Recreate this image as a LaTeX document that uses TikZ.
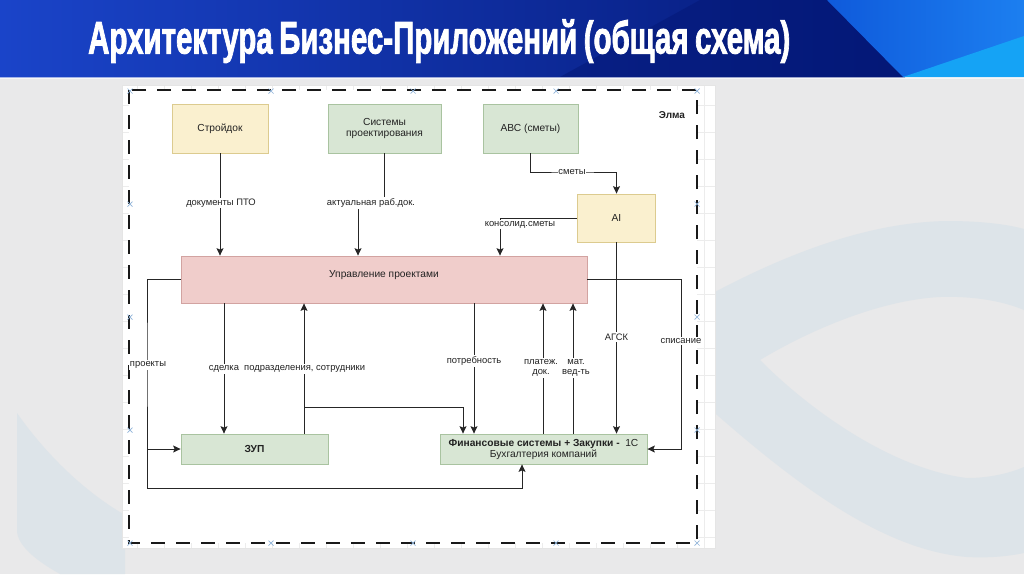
\documentclass[tikz,border=0pt]{standalone}
\usepackage{fontspec}
\usepackage{graphicx}
\setmainfont{Liberation Sans}
\newfontfamily\titlefont[FakeBold=2.2]{Liberation Sans}
\usetikzlibrary{arrows.meta,calc}
\definecolor{bgc}{HTML}{E9E9EA}
\definecolor{arcc}{HTML}{DDE4E9}
\definecolor{yelF}{HTML}{FAF0CF}
\definecolor{yelD}{HTML}{DCCB8F}
\definecolor{grnF}{HTML}{D8E6D4}
\definecolor{grnD}{HTML}{A9C3A0}
\definecolor{pnkF}{HTML}{F0CDCB}
\definecolor{pnkD}{HTML}{D2A3A1}
\definecolor{lnc}{HTML}{262626}
\definecolor{txt}{HTML}{222222}
\definecolor{xmark}{HTML}{8FB3D9}
\definecolor{gridc}{HTML}{ECECEC}
\definecolor{tbA}{HTML}{1A44C9}
\definecolor{tbB}{HTML}{0D2DA6}
\definecolor{tbC}{HTML}{041877}
\definecolor{tbD}{HTML}{0F5ADB}
\definecolor{tbE}{HTML}{1C7FF0}
\definecolor{tbF}{HTML}{15A3F5}
\tikzset{
  box/.style={draw, line width=0.8pt, inner sep=0pt, align=center, text=txt,
    font=\fontsize{10.2}{11}\selectfont},
  yel/.style={box, fill=yelF, draw=yelD},
  grn/.style={box, fill=grnF, draw=grnD},
  pnk/.style={box, fill=pnkF, draw=pnkD},
  conn/.style={draw=lnc, line width=0.9pt, -{Stealth[length=7.5pt,width=7pt,inset=1.5pt]}},
  lbl/.style={fill=white, inner sep=1.2pt, text=txt, align=center,
    font=\fontsize{9.4}{10}\selectfont},
  xm/.style={draw=xmark, line width=0.7pt},
}
\begin{document}
\begin{tikzpicture}[x=1pt,y=-1pt]
\useasboundingbox (0,0) rectangle (1024,574);
% background
\fill[bgc] (0,0) rectangle (1024,574);
\fill[arcc] (700,300) .. controls (800,245) and (880,222) .. (947,221)
  .. controls (985,221) and (1010,225) .. (1024,229) -- (1024,310)
  .. controls (1000,300) and (970,296) .. (940,297)
  .. controls (880,300) and (810,330) .. (760,360)
  .. controls (820,420) and (900,470) .. (967,478)
  .. controls (990,478) and (1010,473) .. (1024,467) -- (1024,553)
  .. controls (1005,557) and (985,558) .. (967,557)
  .. controls (880,550) and (790,480) .. (700,400) -- cycle;
\fill[arcc] (17,413) .. controls (50,460) and (90,495) .. (125,515) -- (125,574) -- (60,574)
  .. controls (35,560) and (17,545) .. (17,530) -- cycle;
% title band
\shade[left color=tbA, middle color=tbB, right color=tbC] (0,0) rectangle (905,77);
\fill[tbC, opacity=0.55] (560,77) -- (700,0) -- (827,0) -- (903,77) -- cycle;
\shade[left color=tbD, right color=tbE] (827,0) -- (1024,0) -- (1024,77) -- (903,77) -- cycle;
\fill[tbF] (903,77) -- (1024,36) -- (1024,77) -- cycle;
\fill[white, opacity=0.6] (0,77) rectangle (1024,79);
\node[anchor=base west, inner sep=0pt, text=white] (title) at (88,53.5)
  {\resizebox{702pt}{34pt}{\titlefont\bfseries Архитектура\hspace{0.22em}Бизнес-Приложений\hspace{0.22em}(общая\hspace{0.22em}схема)}};
% panel
\fill[white] (122,85) rectangle (715,548);
\foreach \yy in {105,132,...,546} \draw[gridc, line width=0.5pt] (122,\yy) -- (715,\yy);
\foreach \xx in {137,164,...,714} \draw[gridc, line width=0.5pt] (\xx,85) -- (\xx,548);
\draw[draw=gridc!80!black!40, line width=0.4pt] (122,85) rectangle (715,548);
\draw[fill=white, draw=black!90, line width=2.2pt, dash pattern=on 14pt off 11pt] (129,90) rectangle (697,543);
\foreach \xx in {130,271,413,556,697} {
  \draw[xm] (\xx-2.5,88.5) -- (\xx+2.5,93.5) (\xx-2.5,93.5) -- (\xx+2.5,88.5);
  \draw[xm] (\xx-2.5,540.5) -- (\xx+2.5,545.5) (\xx-2.5,545.5) -- (\xx+2.5,540.5);
}
\foreach \yy in {204,317,430} {
  \draw[xm] (127.5,\yy-2.5) -- (132.5,\yy+2.5) (127.5,\yy+2.5) -- (132.5,\yy-2.5);
  \draw[xm] (694.5,\yy-2.5) -- (699.5,\yy+2.5) (694.5,\yy+2.5) -- (699.5,\yy-2.5);
}
% nodes
\node[yel, minimum width=96pt, minimum height=49pt] (stroy) at (220,128.5) {Стройдок};
\node[grn, minimum width=113pt, minimum height=49pt] (sist) at (384.5,128.5) {Системы\\проектирования};
\node[grn, minimum width=95pt, minimum height=49pt] (abc) at (530.5,128.5) {АВС (сметы)};
\node[yel, minimum width=78pt, minimum height=48pt] (ai) at (616.5,218) {AI};
\node[pnk, minimum width=406pt, minimum height=47pt] (upr) at (384,279.5) {};
\node[inner sep=0pt, text=txt, font=\fontsize{10.2}{11}\selectfont] (uprtext) at (384,275) {Управление проектами};
\node[grn, minimum width=147pt, minimum height=30pt, font=\fontsize{10.2}{11}\selectfont\bfseries] (zup) at (254.5,449) {ЗУП};
\node[grn, minimum width=207pt, minimum height=30pt] (fin) at (543.5,449)
  {\textbf{Финансовые системы + Закупки -}\ \ 1С\\Бухгалтерия компаний};
\node[text=txt, font=\fontsize{10}{11}\selectfont\bfseries, inner sep=0pt] (elma) at (672,115) {Элма};
% connectors
\draw[conn] (stroy.south) -- (stroy.south |- upr.north);
\node[lbl] (l1) at (221,203) {документы ПТО};
\coordinate (k2) at (358,203);
\draw[conn] (sist.south) -- (sist.south |- k2) -- (k2) -- (k2 |- upr.north);
\node[lbl] (l2) at (371,203) {актуальная раб.док.};
\coordinate (k3) at (572,172);
\draw[conn] (abc.south) |- (k3) -| (ai.north);
\node[lbl, inner sep=0.8pt] (l3) at (k3) {сметы};
\coordinate (k4) at (500,218);
\draw[conn] (ai.west) -- (k4) -- (k4 |- upr.north);
\node[lbl] (l4) at (520,224.5) {консолид.сметы};
\draw[conn] (ai.south) -- (ai.south |- fin.north);
\node[lbl] (l5) at (616.5,337) {АГСК};
\coordinate (k6) at (681,341);
\draw[conn] (upr.east) -| (k6) |- (fin.east);
\node[lbl] (l6) at (k6) {списание};
\coordinate (k7) at (147,365);
\draw[conn] (upr.west) -| (k7) |- (zup.west);
\coordinate (k7b) at (147,488);
\draw[conn] (k7 |- zup.west) -- (k7b) -| ([xshift=-21.5pt]fin.south);
\node[lbl] (l7) at (148,365) {проекты};
\coordinate (c224) at (224,369);
\draw[conn] (c224 |- upr.south) -- (c224 |- zup.north);
\coordinate (c304) at (304,407);
\draw[conn] (c304 |- zup.north) -- (c304 |- upr.south);
\coordinate (c463) at (463,407);
\draw[conn] (c304) -- (c463) -- (c463 |- fin.north);
\node[lbl] (l8) at (287,369) {сделка\ \ подразделения, сотрудники};
\coordinate (c474) at (474,361);
\draw[conn] (c474 |- upr.south) -- (c474 |- fin.north);
\node[lbl] (l9) at (c474) {потребность};
\coordinate (c543) at (543,368);
\draw[conn] (c543 |- fin.north) -- (c543 |- upr.south);
\node[lbl] (l10) at (541,368) {платеж.\\док.};
\coordinate (c573) at (573,368);
\draw[conn] (c573 |- fin.north) -- (c573 |- upr.south);
\node[lbl] (l11) at (576,368) {мат.\\вед-ть};
\end{tikzpicture}
\end{document}
